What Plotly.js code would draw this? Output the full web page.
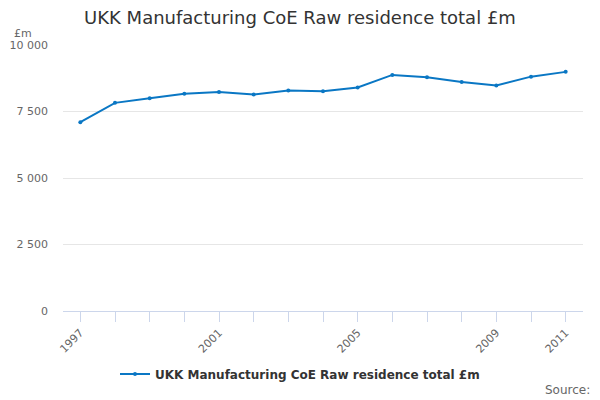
<!DOCTYPE html>
<html>
<head>
<meta charset="utf-8">
<script src="https://cdn.plot.ly/plotly-3.0.1.min.js"></script>
<style>
  html, body { margin: 0; padding: 0; background: #fff; }
  #plot { width: 600px; height: 400px; }
</style>
</head>
<body>
<div id="plot"></div>
<script>
"use strict";

// ── Data ──
const years = [1997, 1998, 1999, 2000, 2001, 2002, 2003, 2004,
               2005, 2006, 2007, 2008, 2009, 2010, 2011];
const values = [7100, 7825, 8000, 8170, 8235, 8135, 8285, 8260,
                8400, 8875, 8790, 8610, 8475, 8810, 8990];
const labelledYears = [1997, 2001, 2005, 2009, 2011];
const yTicks = [0, 2500, 5000, 7500, 10000];

const seriesName = "UKK Manufacturing CoE Raw residence total £m";
const FONT = "DejaVu Sans, sans-serif";
const BLUE = "#0a77c4";

const traces = [{
    type: "scatter", mode: "lines+markers",
    x: years, y: values,
    name: seriesName,
    line: { color: BLUE, width: 2 },
    marker: { color: BLUE, size: 4 },
}];

const layout = {
    width: 600, height: 400,
    margin: { l: 63, r: 17, t: 45, b: 89 },
    paper_bgcolor: "#fff", plot_bgcolor: "#fff",
    separators: ". ",
    font: { family: FONT, color: "#666" },
    title: {
        text: seriesName,
        x: 0.5, xanchor: "center", xref: "container",
        y: 0.955, yanchor: "middle", yref: "container",
        font: { size: 18, color: "#333", family: FONT },
    },
    xaxis: {
        range: [1996.5, 2011.5],
        tickvals: years,
        ticktext: years.map(y => labelledYears.includes(y) ? String(y) : ""),
        tickangle: -45,
        ticks: "outside", ticklen: 10, tickcolor: "#ccd6eb",
        showline: true, linecolor: "#ccd6eb", linewidth: 1,
        showgrid: false, zeroline: false,
        tickfont: { size: 11, color: "#666" },
        fixedrange: true,
    },
    yaxis: {
        range: [0, 10000],
        tickvals: yTicks,
        tickformat: ",",
        showgrid: true, gridcolor: "#e6e6e6",
        zeroline: false, showline: false,
        ticks: "", ticklabelstandoff: 14,
        tickfont: { size: 11, color: "#666" },
        fixedrange: true,
    },
    showlegend: true,
    legend: {
        orientation: "h",
        x: 0.5, xanchor: "center", xref: "container",
        y: 0.065, yanchor: "middle", yref: "container",
        font: { size: 12, color: "#333", family: FONT, weight: "bold" },
    },
    annotations: [
        { text: "£m", xref: "paper", yref: "paper", x: -0.098, y: 1.012,
          xanchor: "left", yanchor: "bottom", showarrow: false,
          font: { size: 11, color: "#666" } },
        { text: "Source:", xref: "paper", yref: "paper", x: 1.018, y: -0.265,
          xanchor: "right", yanchor: "top", showarrow: false,
          font: { size: 12, color: "#666" } },
    ],
};

Plotly.newPlot("plot", traces, layout, { displayModeBar: false, staticPlot: true });
</script>
</body>
</html>
